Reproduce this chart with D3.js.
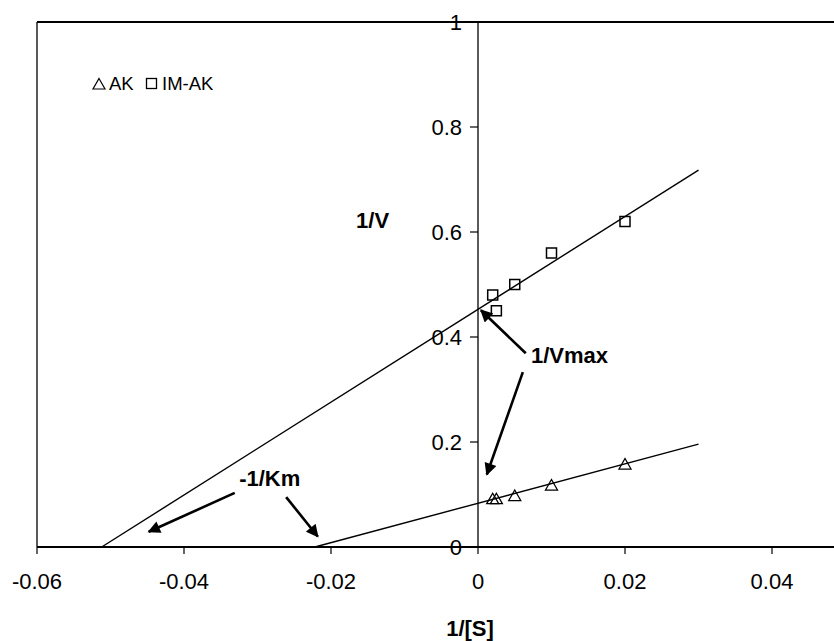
<!DOCTYPE html>
<html>
<head>
<meta charset="utf-8">
<script src="https://cdn.jsdelivr.net/npm/d3@7"></script>
<style>
  body { margin: 0; background: #fff; }
  svg { display: block; font-family: "Liberation Sans", Arial, sans-serif; }
</style>
</head>
<body>
<svg id="chart" width="834" height="641"></svg>
<script>
// Lineweaver-Burk plot, AK vs IM-AK
const xTicks = [-0.06, -0.04, -0.02, 0, 0.02, 0.04];
const yTicks = [0, 0.2, 0.4, 0.6, 0.8, 1];

const akX = [0.002, 0.0025, 0.005, 0.01, 0.02];
const akY = [0.092, 0.092, 0.098, 0.118, 0.158];
const imakX = [0.002, 0.0025, 0.005, 0.01, 0.02];
const imakY = [0.48, 0.45, 0.5, 0.56, 0.62];

// fitted lines, endpoints
const akLine = [[-0.0222, 0], [0.03, 0.196]];
const imakLine = [[-0.0512, 0], [0.03, 0.718]];

// annotation arrows [from, to] in data units
const arrows = [
    [[0.0065, 0.369], [0.0004, 0.451]],
    [[0.0061, 0.333], [0.0012, 0.138]],
    [[-0.0331, 0.103], [-0.0448, 0.029]],
    [[-0.0261, 0.095], [-0.0218, 0.02]]
];
const labels = [
    { text: '1/Vmax', x: 0.0072, y: 0.35, anchor: 'start' },
    { text: '-1/Km', x: -0.0325, y: 0.116, anchor: 'start' },
    { text: '1/V', x: -0.0121, y: 0.607, anchor: 'end' }
];

const svg = d3.select('#chart');
const x = d3.scaleLinear().domain([-0.06, 0.05]).range([37, 845.5]);
const y = d3.scaleLinear().domain([0, 1]).range([547, 22]);

// frame
svg.append('line').attr('x1', x(-0.06)).attr('x2', 834).attr('y1', y(1)).attr('y2', y(1))
    .attr('stroke', '#000').attr('stroke-width', 1.8);
svg.append('line').attr('x1', x(-0.06)).attr('x2', x(-0.06)).attr('y1', y(1)).attr('y2', y(0))
    .attr('stroke', '#000').attr('stroke-width', 1.3);

// x axis
const xAxis = svg.append('g').attr('transform', 'translate(0,' + y(0) + ')');
xAxis.append('line').attr('x1', x(-0.06)).attr('x2', 834).attr('stroke', '#000').attr('stroke-width', 2);
xAxis.selectAll('.xt').data(xTicks).enter().append('line')
    .attr('x1', d => x(d)).attr('x2', d => x(d)).attr('y1', 0).attr('y2', 7)
    .attr('stroke', '#000').attr('stroke-width', 1.2);
xAxis.selectAll('.xl').data(xTicks).enter().append('text')
    .attr('x', d => x(d)).attr('y', 42)
    .attr('text-anchor', 'middle').attr('font-size', 22)
    .text(d => String(d));

// y axis
const yAxis = svg.append('g').attr('transform', 'translate(' + x(0) + ',0)');
yAxis.append('line').attr('y1', y(1)).attr('y2', y(0)).attr('stroke', '#000').attr('stroke-width', 1.3);
yAxis.selectAll('.yt').data(yTicks).enter().append('line')
    .attr('x1', -8).attr('x2', 0).attr('y1', d => y(d)).attr('y2', d => y(d))
    .attr('stroke', '#000').attr('stroke-width', 1.2);
yAxis.selectAll('.yl').data(yTicks).enter().append('text')
    .attr('x', -16).attr('y', d => y(d)).attr('dy', '0.36em')
    .attr('text-anchor', 'end').attr('font-size', 22)
    .text(d => String(d));

// fit lines
const line = d3.line().x(d => x(d[0])).y(d => y(d[1]));
[akLine, imakLine].forEach(l => {
    svg.append('path').attr('d', line(l)).attr('fill', 'none')
        .attr('stroke', '#000').attr('stroke-width', 1.4);
});

// markers
const triPath = 'M0,-5.5L6,5L-6,5Z';
svg.selectAll('.ak').data(akX).enter().append('path')
    .attr('d', triPath)
    .attr('transform', (d, i) => 'translate(' + x(d) + ',' + y(akY[i]) + ')')
    .attr('fill', 'none').attr('stroke', '#000').attr('stroke-width', 1.3);
svg.selectAll('.imak').data(imakX).enter().append('rect')
    .attr('x', d => x(d) - 5).attr('y', (d, i) => y(imakY[i]) - 5)
    .attr('width', 10).attr('height', 10)
    .attr('fill', 'none').attr('stroke', '#000').attr('stroke-width', 1.5);

// arrows
const defs = svg.append('defs');
defs.append('marker').attr('id', 'head')
    .attr('viewBox', '0 0 10 10').attr('refX', 9).attr('refY', 5)
    .attr('markerWidth', 5.5).attr('markerHeight', 4.8)
    .attr('markerUnits', 'strokeWidth').attr('orient', 'auto')
    .append('path').attr('d', 'M0,0L10,5L0,10Z').attr('fill', '#000');
svg.selectAll('.arrow').data(arrows).enter().append('line')
    .attr('x1', d => x(d[0][0])).attr('y1', d => y(d[0][1]))
    .attr('x2', d => x(d[1][0])).attr('y2', d => y(d[1][1]))
    .attr('stroke', '#000').attr('stroke-width', 2.6)
    .attr('marker-end', 'url(#head)');

svg.selectAll('.lbl').data(labels).enter().append('text')
    .attr('x', d => x(d.x)).attr('y', d => y(d.y))
    .attr('text-anchor', d => d.anchor)
    .attr('font-size', 22).attr('font-weight', 'bold')
    .text(d => d.text);

// axis title
svg.append('text').attr('x', 470).attr('y', 636).attr('text-anchor', 'middle')
    .attr('font-size', 22).attr('font-weight', 'bold').text('1/[S]');

// legend
const leg = svg.append('g');
leg.append('path').attr('d', triPath).attr('transform', 'translate(99,84)')
    .attr('fill', 'none').attr('stroke', '#000').attr('stroke-width', 1.2);
leg.append('text').attr('x', 109).attr('y', 89.5).attr('font-size', 18.5).text('AK');
leg.append('rect').attr('x', 146.5).attr('y', 78.5).attr('width', 10).attr('height', 10)
    .attr('fill', 'none').attr('stroke', '#000').attr('stroke-width', 1.3);
leg.append('text').attr('x', 162).attr('y', 89.5).attr('font-size', 18.5).text('IM-AK');
</script>
</body>
</html>
